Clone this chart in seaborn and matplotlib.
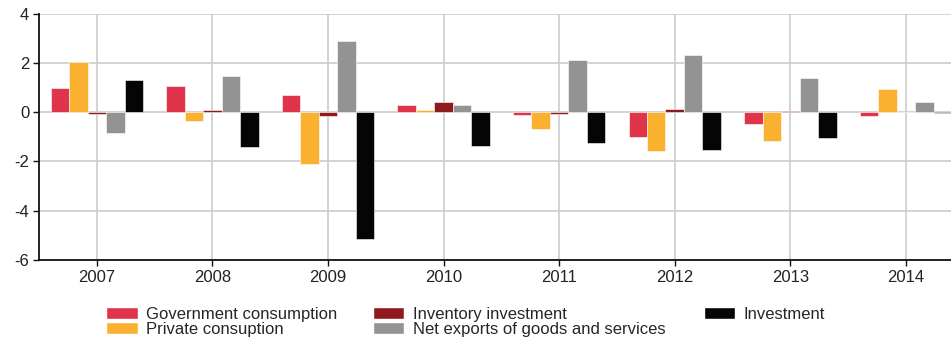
import matplotlib
matplotlib.use("Agg")
import matplotlib.pyplot as plt
import seaborn as sns
import pandas as pd
from matplotlib.patches import Patch

years = ["2007", "2008", "2009", "2010", "2011", "2012", "2013", "2014"]
government = [1.00, 1.08, 0.72, 0.30, -0.10, -1.01, -0.47, -0.17]
private = [2.04, -0.36, -2.12, 0.10, -0.69, -1.58, -1.15, 0.93]
inventory = [-0.05, 0.08, -0.16, 0.43, -0.05, 0.14, 0.04, 0.02]
net_exports = [-0.86, 1.49, 2.89, 0.30, 2.12, 2.34, 1.39, 0.42]
investment = [1.32, -1.43, -5.14, -1.35, -1.25, -1.54, -1.05, -0.02]

series_names = ["Government consumption", "Private consuption", "Inventory investment",
                "Net exports of goods and services", "Investment"]
series_values = [government, private, inventory, net_exports, investment]
colors = ["#E0344B", "#FBB130", "#8E1A1E", "#939393", "#050505"]

rows = []
for name, vals in zip(series_names, series_values):
    for y, v in zip(years, vals):
        rows.append({"year": y, "series": name, "value": v})
df = pd.DataFrame(rows)

sns.set_theme(style="white")
plt.rcParams["font.family"] = ["Liberation Sans", "DejaVu Sans"]
plt.rcParams["axes.unicode_minus"] = False

fig = plt.figure(figsize=(9.51, 3.38), dpi=100)
ax = fig.add_axes([0.041, 0.231, 0.959, 0.728])

sns.barplot(data=df, x="year", y="value", hue="series", hue_order=series_names,
            order=years, palette=colors, saturation=1, width=0.8, edgecolor="white",
            linewidth=0.4, ax=ax, legend=False, zorder=3)

ax.set_xlim(-0.5, 7.39)
ax.set_ylim(-6, 4)
ax.set_yticks([-6, -4, -2, 0, 2, 4])
ax.set_xlabel("")
ax.set_ylabel("")
ax.grid(True, color="#CCCCCC", linewidth=1.2, zorder=0)
ax.set_axisbelow(True)
for s in ["top", "right"]:
    ax.spines[s].set_visible(False)
for s in ["left", "bottom"]:
    ax.spines[s].set_color("#111111")
    ax.spines[s].set_linewidth(1.3)
ax.tick_params(axis="both", which="both", length=4, width=1, color="#111111",
               labelsize=12, labelcolor="#222222", direction="out", pad=3,
               bottom=True, left=True)

handles = [Patch(facecolor=c, edgecolor="white", label=n) for c, n in zip(colors, series_names)]
col_groups = [(handles[0:2], 0.1115), (handles[2:4], 0.392), (handles[4:5], 0.740)]
for hs, xpos in col_groups:
    fig.legend(handles=hs, loc="upper left", bbox_to_anchor=(xpos, 0.092), ncol=1,
               frameon=False, fontsize=12, handlelength=1.9, handleheight=0.68,
               labelspacing=0.0, handletextpad=0.5, borderaxespad=0, borderpad=0)

fig.savefig("out.png", dpi=100)
